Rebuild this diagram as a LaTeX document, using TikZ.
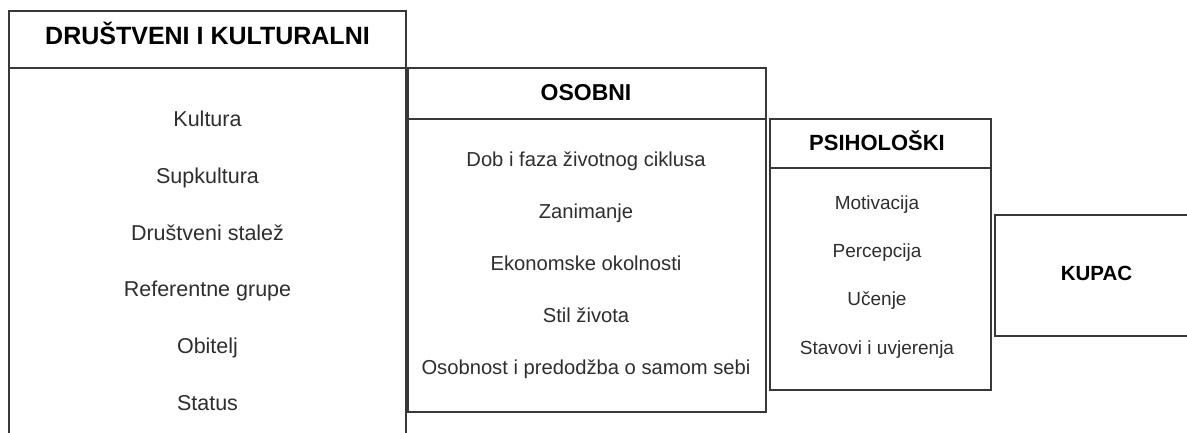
\documentclass[tikz,border=0pt]{standalone}
\usepackage{fontspec}
\setmainfont{Liberation Sans}
\begin{document}
\begin{tikzpicture}[x=1pt,y=-1pt,
  box/.style={draw=black!78, line width=1.8pt, rectangle, inner sep=0pt, fill=none},
  ttl/.style={anchor=base, inner sep=0pt, text=black, font=\bfseries},
  itmL/.style={anchor=base, inner sep=0pt, text=black!82, font=\fontsize{21.5}{25}\selectfont},
  itmM/.style={anchor=base, inner sep=0pt, text=black!82, font=\fontsize{20.2}{24}\selectfont},
  itmR/.style={anchor=base, inner sep=0pt, text=black!82, font=\fontsize{19}{23}\selectfont}]
\useasboundingbox (0,0) rectangle (1187,432);
\clip (0,0) rectangle (1187,432);
\fill[white] (0,0) rectangle (1187,432);
% Drustveni i kulturalni
\node[box, minimum width=397pt, minimum height=57pt] (lh) at (207.5,39.5) {};
\node[box, minimum width=397pt, minimum height=377pt] (lb) at (207.5,256.5) {};
\node[ttl, font=\bfseries\fontsize{25}{30}\selectfont] (lt) at (207.5,44.5) {DRUŠTVENI I KULTURALNI};
\node[itmL] (l1) at (207.5,126) {Kultura};
\node[itmL] (l2) at (207.5,183) {Supkultura};
\node[itmL] (l3) at (207.5,240) {Društveni stalež};
\node[itmL] (l4) at (207.5,296) {Referentne grupe};
\node[itmL] (l5) at (207.5,353) {Obitelj};
\node[itmL] (l6) at (207.5,410) {Status};
% Osobni
\node[box, minimum width=358pt, minimum height=51pt] (mh) at (587,93.5) {};
\node[box, minimum width=358pt, minimum height=293pt] (mb) at (587,265.5) {};
\node[ttl, font=\bfseries\fontsize{23}{28}\selectfont] (mt) at (586,100) {OSOBNI};
\node[itmM] (m1) at (586,166) {Dob i faza životnog ciklusa};
\node[itmM] (m2) at (586,218) {Zanimanje};
\node[itmM] (m3) at (586,270) {Ekonomske okolnosti};
\node[itmM] (m4) at (586,322) {Stil života};
\node[itmM] (m5) at (586,374) {Osobnost i predodžba o samom sebi};
% Psiholoski
\node[box, minimum width=221pt, minimum height=49pt] (ph) at (880.5,143.5) {};
\node[box, minimum width=221pt, minimum height=222pt] (pb) at (880.5,279) {};
\node[ttl, font=\bfseries\fontsize{22}{27}\selectfont] (pt) at (877,150) {PSIHOLOŠKI};
\node[itmR] (p1) at (877,209) {Motivacija};
\node[itmR] (p2) at (877,257) {Percepcija};
\node[itmR] (p3) at (877,305) {Učenje};
\node[itmR] (p4) at (877,354) {Stavovi i uvjerenja};
% Kupac
\node[box, minimum width=210pt, minimum height=121pt] (k) at (1100,275.5) {};
\node[ttl, font=\bfseries\fontsize{20.5}{25}\selectfont] (kt) at (1096.5,280) {KUPAC};
\end{tikzpicture}
\end{document}
